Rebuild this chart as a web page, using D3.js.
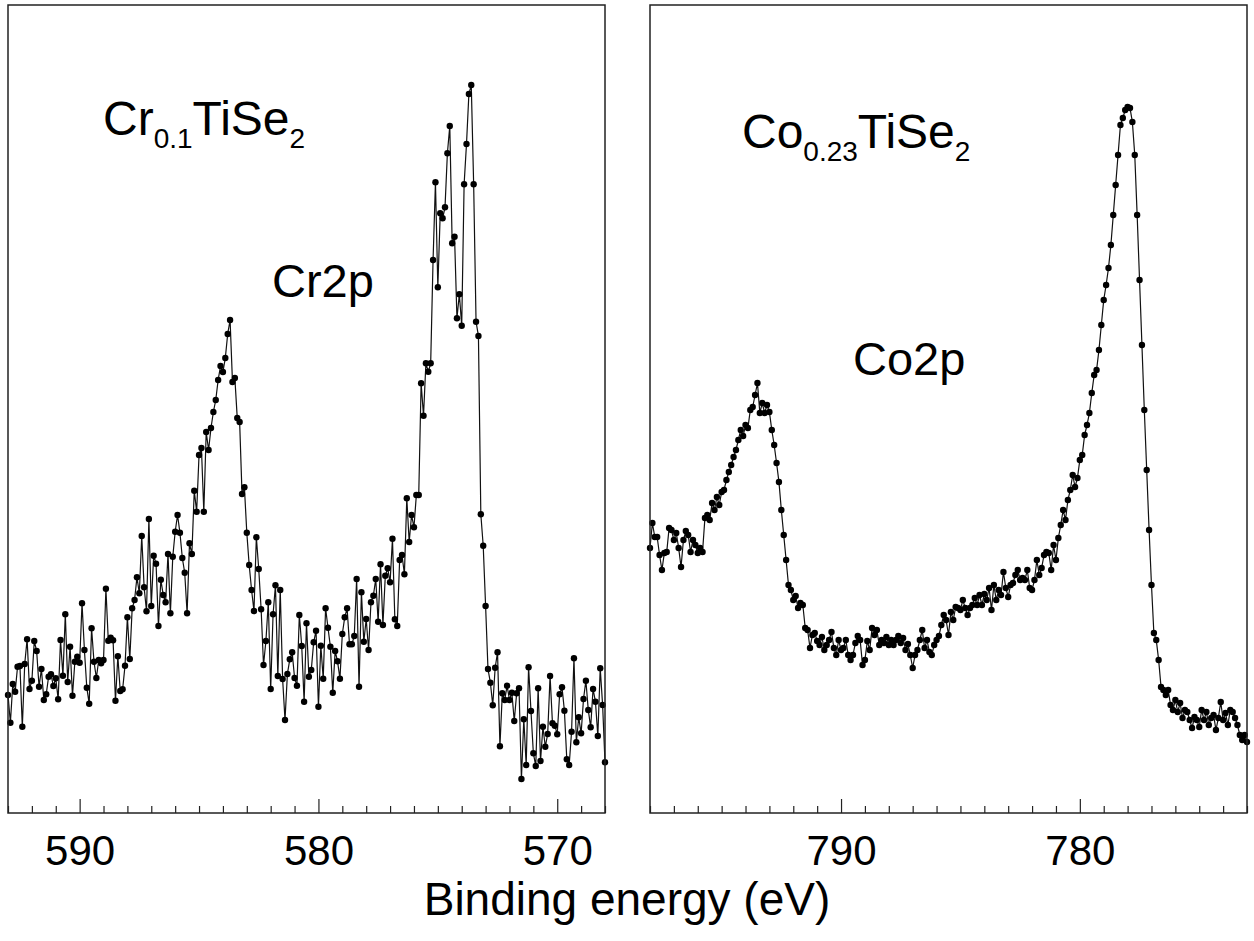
<!DOCTYPE html>
<html><head><meta charset="utf-8">
<script src="https://cdn.jsdelivr.net/npm/d3@7"></script>
<style>
html,body{margin:0;padding:0;background:#fff;}
svg{display:block;font-family:"Liberation Sans",Arial,Helvetica,sans-serif;}
</style></head>
<body>
<svg id="chart" width="1254" height="941"></svg>
<script>
// ---------------- DATA ----------------
// Left panel: Cr2p, binding energy 593.0 -> 568.0 eV, step 0.1 eV (readings, arbitrary units measured from top)
const crEnergyStart = 593.0, crEnergyStep = -0.1;
const crIntensityPx = [
695,722.7,684,691.7,666.7,666,726.7,664,639.3,689,
680.7,641,651,686.7,669,700,694.3,676.7,674.3,686,
678.3,699.3,640,675.7,614.3,682,646.7,695.7,661.7,656.7,
662.7,603.3,650,687.7,703.7,628.3,661.7,678,660,663.3,
660,588.7,640.7,637.7,640.3,700.7,656.3,691,689.3,665.7,
617.3,659,608.3,600,577.3,593.3,536,587.3,611.3,519,
606,555.7,563.7,626,579.7,595,602.3,554,613.3,556.7,
531.7,515,532.7,558,572.7,613.3,543.3,554,490.7,
511.7,
455,448,511.7,432,450,428,412,400,380,366,372,358,334,320,382,378,418,422,494,487.3,
532.7,565,590,611,537.3,569,609.3,665,641,602.3,689,614.3,585.3,676,590,679,720,674,659.3,652.3,678,685.7,615,646,701.7,623.3,676.7,670,642.3,630.7,706.7,
645.7,678.7,608.3,627.7,646.7,692.7,651,661.3,678.7,634,617.3,608.3,644.3,644.3,636,579,686.7,592.3,641.7,619,650,602.3,595.7,579,621.7,564.3,625,575.7,568.3,582.3,538.7,619.3,626,560,555,574.3,498.3,542,515,527.3,495,495,
383.3,415.7,363.3,371.7,363.3,260,182.3,287.3,213.3,218.3,207.3,153.3,126,243.3,236.7,318.3,294.3,325.7,184.3,144,94,85,184.3,321.7,336,
514.3,545.7,606,669,682.7,705.3,667.7,652.3,746.3,693.3,700,685.7,700,692.7,721,693.3,688.3,779,719.3,765,667.3,711,753.3,766,688.3,761,726.7,746.7,734,676,723.3,725.7,734.3,694.3,687.3,710.7,759.3,765,731.7,658.3,742.3,717.3,733.3,699,680.7,710,727.3,689,701.7,736,668.3,705,762.3
];
// Right panel: Co2p, binding energy 798.0 -> 773.0 eV, step 0.1 eV
const coEnergyStart = 798.0, coEnergyStep = -0.1;
const coIntensityPx = [
548,523,537,537,555,570,553,552,528,530,
540,533,548,567,540,531,535,552,540,545,
553,548,552,518,515,520,503,510,497,505,
492,490,480,472,465,457,450,440,430,436,
425,428,410,407,395,383,413,403,413,405,
412,430,445,463,482,510,535,560,585,590,
600,596,608,603,605,628,630,648,635,633,
641,645,637,650,645,640,632,648,655,640,
650,648,640,655,660,655,643,636,640,665,
660,641,650,628,635,630,645,640,643,637,
645,640,645,640,636,643,638,650,644,655,
668,655,650,640,630,648,640,652,655,645,
640,636,625,615,620,635,612,620,607,608,
610,600,608,615,608,605,598,605,595,605,
594,600,588,610,585,600,590,595,572,588,
597,585,583,575,570,580,578,580,570,588,
590,580,560,575,568,555,552,553,570,545,
560,538,525,510,520,500,490,475,487,478,
460,455,435,425,413,393,375,370,350,325,
300,285,268,245,215,185,155,125,118,110,
107,108,122,155,215,280,345,410,470,530,
585,633,640,660,687,690,695,690,705,710,
700,712,703,718,710,712,720,728,717,720,
727,710,720,712,725,718,715,730,718,702,
720,713,725,710,712,718,725,735,740,735,
742
];
// Axis ranges and tick labels
const crDomain = [593, 568];
const coDomain = [798, 773];
const crMajorTicks = [590, 580, 570];
const coMajorTicks = [790, 780];
const xTitle = "Binding energy (eV)";

// Convert stored readings into intensities (arb. units)
const intensityMax = 808;
const crIntensity = crIntensityPx.map(v => +(813 - v).toFixed(1));
const coIntensity = coIntensityPx.map(v => +(813 - v).toFixed(1));
const crEnergy = crIntensity.map((_, i) => +(crEnergyStart + crEnergyStep * i).toFixed(1));
const coEnergy = coIntensity.map((_, i) => +(coEnergyStart + coEnergyStep * i).toFixed(1));

// ---------------- DRAW ----------------
const svg = d3.select("#chart");
const plotTop = 5, plotBottom = 813;
const yScale = d3.scaleLinear().domain([0, intensityMax]).range([plotBottom, plotTop]);

function panel(x0, x1, domain, majors, energy, intensity) {
  const x = d3.scaleLinear().domain(domain).range([x0, x1]);
  const g = svg.append("g");
  const pts = energy.map((e, i) => [e, intensity[i]]);
  g.append("path")
    .attr("d", d3.line().x(d => x(d[0])).y(d => yScale(d[1]))(pts))
    .attr("fill", "none").attr("stroke", "#111").attr("stroke-width", 1.2);
  g.selectAll("circle").data(pts).join("circle")
    .attr("cx", d => x(d[0])).attr("cy", d => yScale(d[1])).attr("r", 3.2)
    .attr("fill", "#000");
  const minor = d3.range(Math.ceil(domain[1]), Math.floor(domain[0]) + 1).filter(v => v % 10 !== 0);
  const minorAxis = d3.axisBottom(x).tickValues(minor).tickSize(-7).tickFormat("");
  const gm = g.append("g").attr("transform", `translate(0,${plotBottom})`).call(minorAxis);
  const majorAxis = d3.axisBottom(x).tickValues(majors).tickSize(-14).tickPadding(22).tickFormat(d3.format("d"));
  const ga = g.append("g").attr("transform", `translate(0,${plotBottom})`).call(majorAxis);
  [gm, ga].forEach(a => { a.select(".domain").remove(); a.selectAll("line").attr("stroke", "#222").attr("stroke-width", 1.2); });
  ga.selectAll("text").attr("font-size", 42).attr("fill", "#000").attr("font-family", '"Liberation Sans",Arial,sans-serif');
  g.append("rect").attr("x", x0).attr("y", plotTop).attr("width", x1 - x0).attr("height", plotBottom - plotTop)
    .attr("fill", "none").attr("stroke", "#222").attr("stroke-width", 1.5);
  return x;
}

panel(8, 605, crDomain, crMajorTicks, crEnergy, crIntensity);
panel(650, 1247, coDomain, coMajorTicks, coEnergy, coIntensity);

function formula(xp, yp, parts) {
  const t = svg.append("text").attr("x", xp).attr("y", yp).attr("font-size", 48).attr("fill", "#000");
  parts.forEach(p => {
    const ts = t.append("tspan").text(p.t);
    if (p.sub) ts.attr("font-size", 28).attr("dy", 13);
    else if (p.after) ts.attr("dy", -13);
  });
}
formula(103, 135, [{t: "Cr"}, {t: "0.1", sub: true}, {t: "TiSe", after: true}, {t: "2", sub: true}]);
formula(742, 148, [{t: "Co"}, {t: "0.23", sub: true}, {t: "TiSe", after: true}, {t: "2", sub: true}]);
svg.append("text").attr("x", 272).attr("y", 297).attr("font-size", 47).text("Cr2p");
svg.append("text").attr("x", 853).attr("y", 375).attr("font-size", 47).text("Co2p");
svg.append("text").attr("x", 627).attr("y", 915).attr("text-anchor", "middle").attr("font-size", 46).text(xTitle);
</script>
</body></html>
